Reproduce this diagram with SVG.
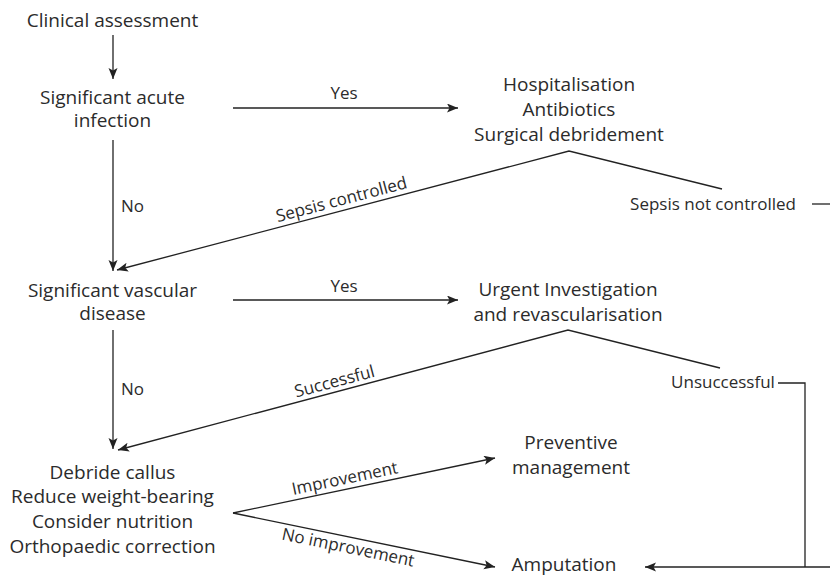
<svg xmlns="http://www.w3.org/2000/svg" width="830" height="577" viewBox="0 0 830 577">
<style>
  text { font-family: "Open Sans", "Noto Sans", "Liberation Sans", sans-serif; fill: #2b2b2b; }
  .n { font-size: 19px; text-anchor: middle; }
  .l { font-size: 17px; }
  .c { text-anchor: middle; }
  .ln { fill: none; stroke: #222; stroke-width: 1.3; }
</style>
<defs>
  <marker id="ah" markerUnits="userSpaceOnUse" markerWidth="12" markerHeight="10" refX="11" refY="4.5" orient="auto">
    <path d="M0,0 L11,4.5 L0,9 L2.5,4.5 z" fill="#222"/>
  </marker>
</defs>
<rect width="830" height="577" fill="#fff"/>

<g id="connectors">
  <line class="ln" x1="113" y1="35" x2="113" y2="79" marker-end="url(#ah)"/>
  <line class="ln" x1="233" y1="108" x2="458" y2="108" marker-end="url(#ah)"/>
  <line class="ln" x1="113" y1="140" x2="113" y2="271" marker-end="url(#ah)"/>
  <polyline class="ln" points="722,189 569,151 117,270" marker-end="url(#ah)"/>
  <line class="ln" x1="812" y1="204" x2="830" y2="204"/>
  <line class="ln" x1="233" y1="300" x2="458" y2="300" marker-end="url(#ah)"/>
  <line class="ln" x1="113" y1="330" x2="113" y2="449" marker-end="url(#ah)"/>
  <polyline class="ln" points="720,368 568,330 118,450" marker-end="url(#ah)"/>
  <polyline class="ln" points="778,383 805,383 805,567"/>
  <line class="ln" x1="830" y1="567" x2="645" y2="567" marker-end="url(#ah)"/>
  <line class="ln" x1="233" y1="513" x2="495" y2="458" marker-end="url(#ah)"/>
  <line class="ln" x1="233" y1="513" x2="495" y2="567" marker-end="url(#ah)"/>

  <text class="l c" x="344" y="99">Yes</text>
  <text class="l c" x="344" y="292">Yes</text>
  <text class="l" x="121" y="212">No</text>
  <text class="l" x="121" y="395">No</text>
  <text class="l c" transform="translate(343,205) rotate(-14.75)">Sepsis controlled</text>
  <text class="l c" transform="translate(336,387) rotate(-14.93)">Successful</text>
  <text class="l c" transform="translate(346,484) rotate(-11.86)">Improvement</text>
  <text class="l c" transform="translate(347,553) rotate(11.65)">No improvement</text>
  <text class="l c" x="713" y="210">Sepsis not controlled</text>
  <text class="l c" x="723" y="388">Unsuccessful</text>
</g>

<g id="clinical-assessment">
  <text class="n" x="112.5" y="26.5">Clinical assessment</text>
</g>
<g id="acute-infection">
  <text class="n" x="112.5" y="103.5">Significant acute</text>
  <text class="n" x="112.5" y="127">infection</text>
</g>
<g id="hospitalisation">
  <text class="n" x="569" y="90.5">Hospitalisation</text>
  <text class="n" x="569" y="116">Antibiotics</text>
  <text class="n" x="569" y="141">Surgical debridement</text>
</g>
<g id="vascular-disease">
  <text class="n" x="112.5" y="296.5">Significant vascular</text>
  <text class="n" x="112.5" y="320">disease</text>
</g>
<g id="revascularisation">
  <text class="n" x="568" y="295.5">Urgent Investigation</text>
  <text class="n" x="568" y="321">and revascularisation</text>
</g>
<g id="debride">
  <text class="n" x="112.5" y="479">Debride callus</text>
  <text class="n" x="112.5" y="503">Reduce weight-bearing</text>
  <text class="n" x="112.5" y="528">Consider nutrition</text>
  <text class="n" x="112.5" y="552.5">Orthopaedic correction</text>
</g>
<g id="preventive">
  <text class="n" x="571" y="449">Preventive</text>
  <text class="n" x="571" y="473.5">management</text>
</g>
<g id="amputation">
  <text class="n" x="564" y="571">Amputation</text>
</g>
</svg>
